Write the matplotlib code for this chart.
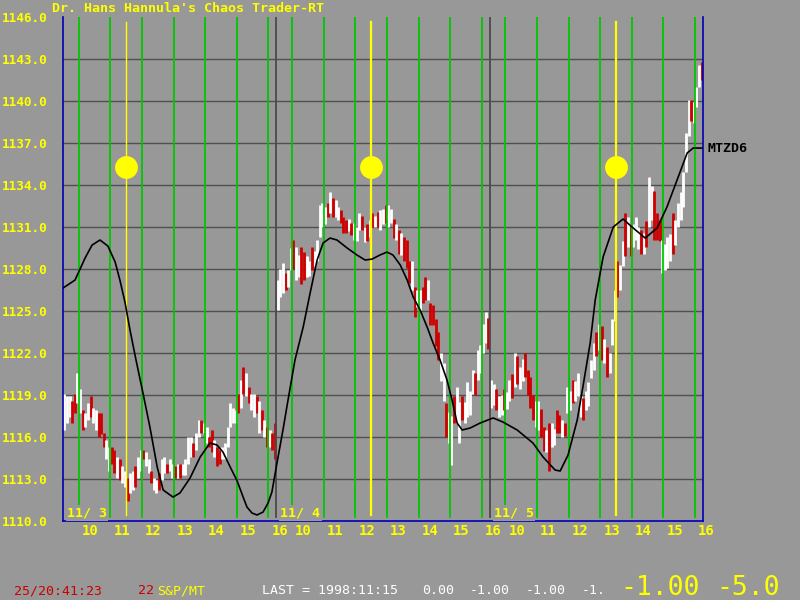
import matplotlib
matplotlib.use('Agg')
import matplotlib.pyplot as plt
import matplotlib.transforms as mtransforms

# ---------------- data ----------------
day_labels = ['11/ 3', '11/ 4', '11/ 5']
hour_labels = [10, 11, 12, 13, 14, 15, 16]
session_len = 6.75          # 9:30 - 16:15, in hours
bars_per_hour = 12          # 5-minute bars

y_ticks = [1146.0, 1143.0, 1140.0, 1137.0, 1134.0, 1131.0, 1128.0,
           1125.0, 1122.0, 1119.0, 1116.0, 1113.0, 1110.0]

day1_high = [1119.1, 1118.9, 1118.9, 1118.6, 1119.1, 1120.6, 1119.4, 1117.9, 1117.7, 1118.4,
             1118.9, 1118.1, 1117.9, 1117.7, 1117.7, 1116.3, 1115.8, 1115.3, 1115.3, 1115.1,
             1114.6, 1114.4, 1113.9, 1113.6, 1113.1, 1113.4, 1113.6, 1113.9, 1114.6, 1115.1,
             1115.1, 1114.9, 1114.4, 1113.6, 1113.1, 1112.9, 1113.4, 1114.4, 1114.6, 1114.1,
             1114.4, 1114.1, 1113.9, 1114.1, 1114.1, 1114.1, 1114.4, 1116.0, 1116.0, 1115.6,
             1116.3, 1117.2, 1117.2, 1117.0, 1116.7, 1116.0, 1116.5, 1115.8, 1115.3, 1115.1,
             1115.3, 1115.6, 1116.7, 1118.4, 1118.1, 1117.9, 1119.1, 1120.1, 1121.0, 1120.6,
             1119.6, 1119.1, 1119.1, 1118.9, 1118.6, 1117.9, 1117.2, 1116.7, 1116.5, 1116.3,
             1117.0]
day1_low = [1116.5, 1117.0, 1117.4, 1117.0, 1117.7, 1118.4, 1117.7, 1116.5, 1116.7, 1117.2,
            1117.4, 1117.0, 1116.5, 1116.0, 1116.2, 1115.3, 1114.4, 1113.6, 1114.1, 1113.4,
            1113.1, 1112.9, 1112.7, 1112.4, 1111.4, 1112.0, 1112.2, 1112.4, 1113.1, 1113.6,
            1114.4, 1113.9, 1113.4, 1112.7, 1112.2, 1112.0, 1112.2, 1112.9, 1113.4, 1113.4,
            1113.6, 1113.1, 1113.1, 1113.1, 1113.1, 1113.3, 1113.3, 1114.1, 1114.6, 1114.6,
            1115.1, 1116.0, 1116.3, 1116.3, 1115.6, 1115.3, 1114.9, 1114.6, 1113.9, 1114.1,
            1114.4, 1114.4, 1115.3, 1116.7, 1117.0, 1117.0, 1117.7, 1118.1, 1119.1, 1118.9,
            1118.4, 1117.9, 1117.4, 1117.7, 1116.3, 1116.5, 1116.0, 1115.3, 1115.3, 1115.1,
            1114.4]
day1_dir = ("wwwrrwwrwwrwwrr" "rwwrrwrwwrw" "wrwwrwwrwwr" "wwrwwrwrwww"
            "wrwwrwwrrwr" "rwwwwwwrwrw" "rwwrwrwrwrr")

day2_high = [1127.2, 1128.0, 1128.4, 1127.7, 1127.9, 1129.5, 1130.1, 1129.6, 1129.0, 1129.6,
             1129.2, 1128.9, 1128.6, 1129.6, 1129.3, 1130.1, 1132.6, 1132.7, 1132.4, 1132.7,
             1133.5, 1133.1, 1132.9, 1132.4, 1132.2, 1131.7, 1131.5, 1131.6, 1131.3, 1131.3,
             1131.0, 1132.0, 1131.8, 1131.0, 1131.2, 1131.5, 1132.0, 1131.8, 1132.1, 1132.2,
             1132.3, 1132.6, 1132.6, 1132.3, 1131.6, 1131.2, 1130.8, 1130.6, 1130.3, 1130.1,
             1128.6, 1128.6, 1126.7, 1126.5, 1126.5, 1126.7, 1127.4, 1127.2, 1125.6, 1125.4,
             1124.4, 1123.5, 1122.0, 1121.3, 1118.4, 1117.8, 1117.5, 1118.9, 1119.6, 1118.5,
             1118.9, 1118.5, 1119.9, 1119.3, 1120.8, 1120.6, 1122.2, 1122.6, 1124.1, 1124.9,
             1124.5]
day2_low = [1125.1, 1126.0, 1126.3, 1126.5, 1126.7, 1127.9, 1128.0, 1127.2, 1127.4, 1126.9,
            1127.2, 1127.4, 1127.5, 1127.9, 1128.2, 1128.6, 1130.3, 1131.0, 1131.2, 1131.7,
            1132.0, 1131.7, 1131.7, 1131.5, 1131.3, 1130.6, 1130.6, 1130.7, 1130.4, 1130.1,
            1130.0, 1130.8, 1130.8, 1129.9, 1130.0, 1130.3, 1131.0, 1131.0, 1131.0, 1130.8,
            1131.2, 1131.3, 1131.0, 1131.3, 1130.2, 1130.1, 1129.1, 1129.0, 1128.6, 1128.1,
            1127.0, 1126.5, 1124.6, 1125.3, 1125.1, 1125.6, 1125.8, 1125.8, 1124.0, 1124.0,
            1122.5, 1121.5, 1120.0, 1118.6, 1116.0, 1115.6, 1114.0, 1117.0, 1117.0, 1115.6,
            1117.2, 1117.0, 1117.4, 1117.6, 1119.1, 1119.0, 1120.1, 1120.6, 1122.0, 1122.7,
            1122.3]
day2_dir = ("wwwrwwrwwrrwwrw" "wwwwrwrwwrr" "rwrwwwrwrwr" "wrwwrwwrwrw"
            "rrrwrwwrrwr" "rrrwwrwwrww" "rwwwwrwwwwr")

day3_high = [1120.1, 1119.8, 1119.4, 1118.9, 1119.0, 1119.4, 1119.2, 1120.1, 1120.5, 1122.0,
             1121.8, 1121.0, 1121.6, 1122.0, 1120.8, 1120.3, 1119.0, 1118.6, 1118.6, 1118.0,
             1116.7, 1116.5, 1117.0, 1117.0, 1116.6, 1117.9, 1117.6, 1117.2, 1117.0, 1119.6,
             1119.3, 1120.1, 1120.0, 1120.6, 1118.9, 1118.8, 1119.3, 1119.9, 1121.5, 1122.7,
             1123.5, 1124.1, 1123.9, 1123.0, 1122.4, 1122.0, 1124.4, 1126.5, 1128.6, 1128.3,
             1130.0, 1132.0, 1131.7, 1131.0, 1131.2, 1131.7, 1131.0, 1130.8, 1130.6, 1131.4,
             1134.6, 1133.9, 1133.6, 1132.0, 1131.5, 1130.1, 1129.8, 1130.3, 1130.5, 1132.0,
             1131.5, 1132.7, 1133.5, 1134.9, 1137.7, 1140.1, 1140.1, 1139.9, 1141.0, 1142.6,
             1142.8]
day3_low = [1118.1, 1118.3, 1117.9, 1117.4, 1117.6, 1117.9, 1118.0, 1118.6, 1118.8, 1119.6,
            1119.8, 1119.4, 1120.0, 1120.3, 1119.0, 1118.1, 1117.2, 1116.7, 1116.5, 1116.0,
            1115.0, 1114.9, 1113.6, 1115.3, 1115.4, 1116.3, 1116.3, 1116.0, 1116.1, 1117.7,
            1117.9, 1118.4, 1118.6, 1118.9, 1117.4, 1117.2, 1117.9, 1118.2, 1120.2, 1120.8,
            1121.8, 1122.2, 1121.5, 1121.3, 1120.3, 1120.6, 1122.6, 1124.3, 1126.0, 1126.5,
            1128.2, 1128.9, 1129.6, 1128.9, 1129.6, 1130.1, 1129.4, 1129.1, 1129.1, 1129.6,
            1131.0, 1131.5, 1130.1, 1130.1, 1130.0, 1127.7, 1127.9, 1128.1, 1128.6, 1129.1,
            1129.7, 1131.0, 1131.5, 1132.4, 1134.9, 1137.5, 1138.6, 1138.4, 1139.6, 1141.0,
            1141.5]
day3_dir = ("wwrwwrwwrwrwwrr" "rrwwrrwrwwr" "rwrwwrwwwrw" "wwwrwrwrwww"
            "rwwrwrwwwrw" "rwwrrrwwwwr" "wwwwwwrwwwr")

# MTZD6 curve (x in session hours from 11/3 9:30, price)
mtz_x = [0.0, 0.38, 0.70, 0.92, 1.17, 1.42, 1.65, 1.80, 1.96, 2.12,
         2.31, 2.53, 2.75, 2.98, 3.17, 3.48, 3.70, 4.02, 4.34, 4.65,
         4.87, 5.06, 5.29, 5.51, 5.70, 5.82, 5.98, 6.14, 6.33, 6.49,
         6.61, 6.77, 6.96, 7.12, 7.34, 7.60, 7.82, 8.04, 8.23, 8.45,
         8.67, 8.99, 9.30, 9.56, 9.78, 10.03, 10.25, 10.44, 10.67, 10.89,
         11.08, 11.30, 11.52, 11.71, 11.93, 12.15, 12.31, 12.47, 12.63, 12.88,
         13.20, 13.61, 13.92, 14.37, 14.87, 15.19, 15.57, 15.73, 15.98, 16.27,
         16.46, 16.68, 16.84, 17.09, 17.41, 17.72, 18.04, 18.42, 18.80, 19.11,
         19.43, 19.75, 19.94, 20.25]
mtz_y = [1126.64, 1127.21, 1128.79, 1129.71, 1130.07, 1129.64, 1128.50, 1127.21, 1125.64, 1123.64,
         1121.50, 1119.14, 1116.71, 1113.86, 1112.21, 1111.71, 1112.00, 1113.07, 1114.57, 1115.57,
         1115.43, 1114.93, 1113.86, 1112.86, 1111.71, 1111.00, 1110.57, 1110.43, 1110.64, 1111.29,
         1112.07, 1114.14, 1116.50, 1118.64, 1121.50, 1123.86, 1126.29, 1128.64, 1129.86, 1130.21,
         1130.07, 1129.50, 1129.00, 1128.64, 1128.71, 1129.00, 1129.21, 1129.00, 1128.29, 1127.21,
         1126.00, 1125.07, 1123.86, 1122.71, 1121.50, 1120.07, 1118.64, 1117.00, 1116.50, 1116.64,
         1117.00, 1117.36, 1117.07, 1116.50, 1115.57, 1114.57, 1113.64, 1113.57, 1114.71, 1117.21,
         1119.71, 1122.71, 1125.79, 1128.86, 1131.00, 1131.57, 1130.93, 1130.21, 1130.93, 1132.43,
         1134.36, 1136.29, 1136.64, 1136.64]

# cycle turning points (session hours) and marker level
cycle_x = [2.0, 9.75, 17.5]
cycle_level = 1135.3

# ---------------- style ----------------
BG = '#989898'
YEL = '#ffff00'
GRN = '#00c800'
RED = '#d00000'
GRID = '#505050'
BLUE = '#0000b4'
MONO = 'DejaVu Sans Mono'

fig = plt.figure(figsize=(8, 6), dpi=100, facecolor=BG)
ax = fig.add_axes([63 / 800, 1 - 521 / 600, 640 / 800, 504 / 600])
ax.set_facecolor(BG)
ax.set_xlim(0, 3 * session_len)
ax.set_ylim(y_ticks[-1], y_ticks[0])

# horizontal grid
for v in y_ticks[1:-1]:
    ax.axhline(v, color=GRID, lw=1.0, zorder=1)

# price bars
highs = [day1_high, day2_high, day3_high]
lows = [day1_low, day2_low, day3_low]
dirs = [day1_dir, day2_dir, day3_dir]
for d in range(3):
    xs = [d * session_len + (i + 0.5) / bars_per_hour for i in range(len(highs[d]))]
    cols = ['#ffffff' if c == 'w' else RED for c in dirs[d]]
    ax.vlines(xs, lows[d], highs[d], colors=cols, lw=2.0, zorder=2)

# vertical hour lines (green) and day separators
tick_pos = []
tick_lab = []
for d in range(3):
    for h in hour_labels:
        x = d * session_len + (h - 9.5)
        tick_pos.append(x)
        tick_lab.append(str(h))
        ax.axvline(x, ymin=0.008, ymax=1.0, color=GRN, lw=1.3, zorder=3)
for d in range(1, 3):
    ax.axvline(d * session_len, ymin=0.008, color='#4a4a4a', lw=1.3, zorder=3)

# cycle lines + dots
for i, cx in enumerate(cycle_x):
    ax.axvline(cx, ymin=0.012, ymax=0.99, color=YEL, lw=1.0 if i == 0 else 1.6, zorder=3)
ax.scatter(cycle_x, [cycle_level] * len(cycle_x), s=270, color=YEL, zorder=5, linewidths=0)

# MTZD6 curve
ax.plot(mtz_x, mtz_y, color='black', lw=1.2, zorder=4)
ax.annotate('MTZD6', xy=(mtz_x[-1], mtz_y[-1]), xytext=(3, 0), textcoords='offset points',
            ha='left', va='center', color='black', fontsize=9.5, family=MONO,
            weight='bold', annotation_clip=False)

# day labels
for d, lab in enumerate(day_labels):
    ax.annotate(lab, xy=(d * session_len, y_ticks[-1]), xytext=(3, 1), textcoords='offset points',
                ha='left', va='bottom', color=YEL, fontsize=9.5, family=MONO, weight='bold',
                bbox=dict(boxstyle='square,pad=0.1', fc=BG, ec='none'), zorder=6)

# spines
for s in ['left', 'bottom', 'right']:
    ax.spines[s].set_color(BLUE)
    ax.spines[s].set_linewidth(1.2)
ax.spines['top'].set_visible(False)

# ticks
ax.set_yticks(y_ticks)
ax.set_yticklabels([f'{v:.1f}' for v in y_ticks])
ax.tick_params(axis='y', length=0, pad=11, labelcolor=YEL, labelsize=9.2)
for t in ax.get_yticklabels():
    t.set_family(MONO)
    t.set_weight('bold')

ax.set_xticks(tick_pos)
ax.set_xticklabels(tick_lab)
ax.tick_params(axis='x', length=0, pad=2, labelcolor=YEL, labelsize=10)
off = mtransforms.ScaledTranslation(3 / 100, 0, fig.dpi_scale_trans)
for t in ax.get_xticklabels():
    t.set_family(MONO)
    t.set_weight('bold')
    t.set_horizontalalignment('left')
    t.set_transform(t.get_transform() + off)

# title
fig.text(52 / 800, 1 - 8 / 600, "Dr. Hans Hannula's Chaos Trader-RT", color=YEL,
         fontsize=9.6, family=MONO, weight='bold', ha='left', va='center')

# status line
sy = 1 - 591 / 600
fig.text(14 / 800, sy, '25/20:41:23', color='#cc0000', fontsize=9.5, family=MONO, va='center')
fig.text(138 / 800, sy, '22', color='#cc0000', fontsize=9.5, family=MONO, va='center')
fig.text(157 / 800, sy, 'S&P/MT', color=YEL, fontsize=9.5, family=MONO, va='center')
fig.text(262 / 800, sy, 'LAST = 1998:11:15', color='white', fontsize=9.5, family=MONO, va='center')
fig.text(422 / 800, sy, '0.00', color='white', fontsize=9.5, family=MONO, va='center')
fig.text(470 / 800, sy, '-1.00', color='white', fontsize=9.5, family=MONO, va='center')
fig.text(526 / 800, sy, '-1.00', color='white', fontsize=9.5, family=MONO, va='center')
fig.text(582 / 800, sy, '-1.', color='white', fontsize=9.5, family=MONO, va='center')
by = 1 - 588 / 600
fig.text(620 / 800, by, '-1.00', color=YEL, fontsize=19, family=MONO, va='center')
fig.text(716 / 800, by, '-5.0', color=YEL, fontsize=19, family=MONO, va='center')

fig.savefig('out.png', dpi=100, facecolor=BG)
